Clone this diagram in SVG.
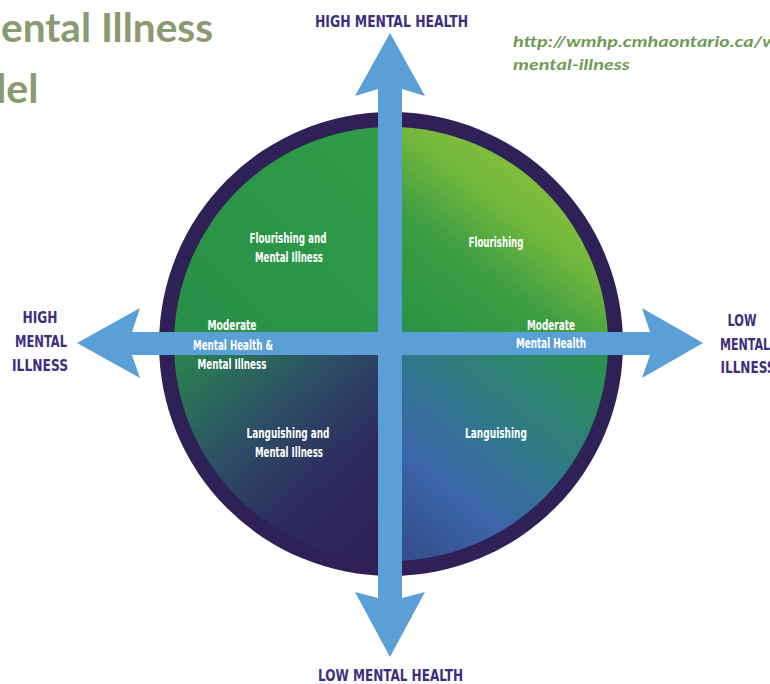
<svg xmlns="http://www.w3.org/2000/svg" width="770" height="684" viewBox="0 0 770 684">
  <style>
    .title { font-family: Lato, "Open Sans", "Liberation Sans", sans-serif; font-weight: bold; fill: #8a9a72; font-size: 41px; }
    .url { font-family: Lato, "Open Sans", "Liberation Sans", sans-serif; font-weight: bold; font-style: italic; fill: #6f9a52; font-size: 16px; }
    .axis { font-family: "Liberation Sans Narrow", "DejaVu Sans Condensed", "Liberation Sans", sans-serif; font-weight: bold; fill: #3e2f7c; font-size: 16px; text-anchor: middle; }
    .zone { font-family: "Liberation Sans Narrow", "DejaVu Sans Condensed", "Liberation Sans", sans-serif; font-weight: bold; fill: #ffffff; font-size: 14.5px; text-anchor: middle; }
    .arrow { fill: #5a9fd6; }
  </style>
  <defs>
    <clipPath id="inner">
      <circle cx="391" cy="344" r="217"/>
    </clipPath>
    <linearGradient id="gTL" x1="0" y1="1" x2="1" y2="0">
      <stop offset="0" stop-color="#288f47"/>
      <stop offset="1" stop-color="#2f9d48"/>
    </linearGradient>
    <linearGradient id="gTR" x1="0.15" y1="1" x2="0.85" y2="0.05">
      <stop offset="0" stop-color="#2a9244"/>
      <stop offset="0.35" stop-color="#3c9d42"/>
      <stop offset="0.6" stop-color="#72b73d"/>
      <stop offset="1" stop-color="#9cc93a"/>
    </linearGradient>
    <linearGradient id="gBL" x1="0" y1="0" x2="0.9" y2="1">
      <stop offset="0" stop-color="#2a8a4c"/>
      <stop offset="0.42" stop-color="#2c4c66"/>
      <stop offset="0.7" stop-color="#2e2a5c"/>
      <stop offset="1" stop-color="#2c2152"/>
    </linearGradient>
    <linearGradient id="gBR" x1="1" y1="0" x2="0.2" y2="1">
      <stop offset="0" stop-color="#2a9448"/>
      <stop offset="0.45" stop-color="#2f7a86"/>
      <stop offset="0.75" stop-color="#3c66ac"/>
      <stop offset="1" stop-color="#34508f"/>
    </linearGradient>
  </defs>

  <!-- page title, running off the left edge -->
  <g id="title">
    <text class="title" x="1" y="42" textLength="212" lengthAdjust="spacingAndGlyphs">ental Illness</text>
    <text class="title" x="-17" y="103">del</text>
  </g>

  <!-- source link, running off the right edge -->
  <g id="source">
    <text class="url" x="513" y="47" textLength="264" lengthAdjust="spacingAndGlyphs">http://wmhp.cmhaontario.ca/w</text>
    <text class="url" x="513" y="70" textLength="117" lengthAdjust="spacingAndGlyphs">mental-illness</text>
  </g>

  <!-- the continuum circle with its four quadrants -->
  <g id="circle">
    <circle cx="391" cy="344" r="232" fill="#2d2156"/>
    <g clip-path="url(#inner)">
      <rect x="170" y="120" width="221" height="224" fill="url(#gTL)"/>
      <rect x="391" y="120" width="221" height="224" fill="url(#gTR)"/>
      <rect x="170" y="344" width="221" height="224" fill="url(#gBL)"/>
      <rect x="391" y="344" width="221" height="224" fill="url(#gBR)"/>
    </g>
  </g>

  <!-- the two double-headed axes -->
  <g id="connectors">
    <polygon class="arrow" points="390,33 425,96 402,89 402,598 425,592 390,657 355,592 378,598 378,89 355,96"/>
    <polygon class="arrow" points="77,343 140,308 132,332 650,332 642,308 703,343 642,378 650,355 132,355 140,378"/>
  </g>

  <g id="axis-top">
    <text class="axis" x="391.5" y="27" textLength="153" lengthAdjust="spacingAndGlyphs">HIGH MENTAL HEALTH</text>
  </g>
  <g id="axis-bottom">
    <text class="axis" x="390.5" y="681" textLength="145" lengthAdjust="spacingAndGlyphs">LOW MENTAL HEALTH</text>
  </g>
  <g id="axis-left">
    <text class="axis" x="40" y="323" textLength="35" lengthAdjust="spacingAndGlyphs">HIGH</text>
    <text class="axis" x="41" y="347" textLength="52" lengthAdjust="spacingAndGlyphs">MENTAL</text>
    <text class="axis" x="40" y="371" textLength="56" lengthAdjust="spacingAndGlyphs">ILLNESS</text>
  </g>
  <g id="axis-right">
    <text class="axis" x="742" y="326" textLength="29" lengthAdjust="spacingAndGlyphs">LOW</text>
    <text class="axis" x="745" y="350" textLength="50" lengthAdjust="spacingAndGlyphs">MENTAL</text>
    <text class="axis" x="748" y="373" textLength="55" lengthAdjust="spacingAndGlyphs">ILLNESS</text>
  </g>

  <g id="flourishing-and-mental-illness">
    <text class="zone" x="288" y="243" textLength="77" lengthAdjust="spacingAndGlyphs">Flourishing and</text>
    <text class="zone" x="289" y="262" textLength="68" lengthAdjust="spacingAndGlyphs">Mental Illness</text>
  </g>
  <g id="flourishing">
    <text class="zone" x="496" y="247" textLength="55" lengthAdjust="spacingAndGlyphs">Flourishing</text>
  </g>
  <g id="moderate-mh-and-mi">
    <text class="zone" x="232" y="330" textLength="49" lengthAdjust="spacingAndGlyphs">Moderate</text>
    <text class="zone" x="233" y="350" textLength="80" lengthAdjust="spacingAndGlyphs">Mental Health &amp;</text>
    <text class="zone" x="232" y="369" textLength="69" lengthAdjust="spacingAndGlyphs">Mental Illness</text>
  </g>
  <g id="moderate-mh">
    <text class="zone" x="551" y="330" textLength="48" lengthAdjust="spacingAndGlyphs">Moderate</text>
    <text class="zone" x="551" y="348" textLength="70" lengthAdjust="spacingAndGlyphs">Mental Health</text>
  </g>
  <g id="languishing-and-mental-illness">
    <text class="zone" x="288" y="438" textLength="83" lengthAdjust="spacingAndGlyphs">Languishing and</text>
    <text class="zone" x="289" y="457" textLength="68" lengthAdjust="spacingAndGlyphs">Mental Illness</text>
  </g>
  <g id="languishing">
    <text class="zone" x="496" y="438" textLength="62" lengthAdjust="spacingAndGlyphs">Languishing</text>
  </g>
</svg>
